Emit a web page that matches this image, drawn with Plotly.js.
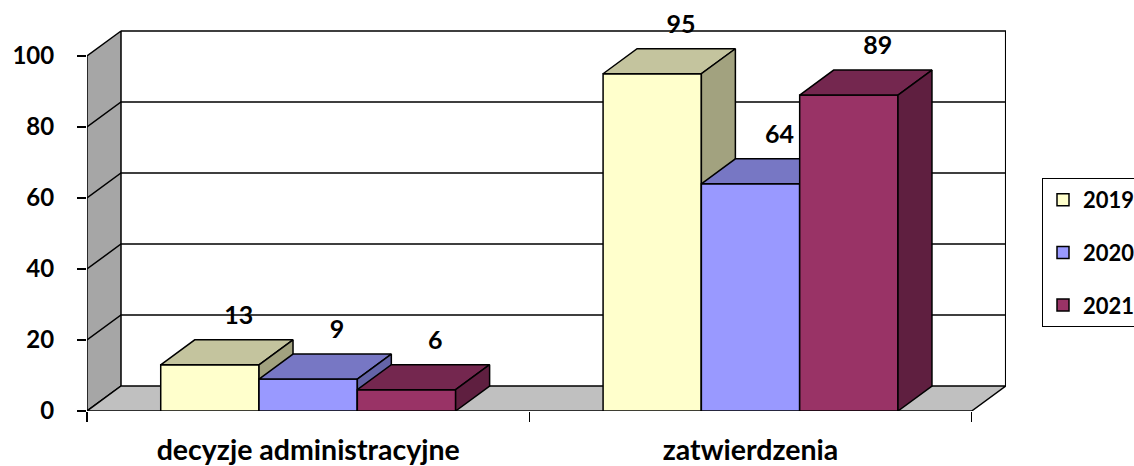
<!DOCTYPE html>
<html><head><meta charset="utf-8">
<script src="https://cdn.plot.ly/plotly-3.0.1.min.js"></script>
<style>html,body{margin:0;padding:0;background:#fff;}#chart{width:1134px;height:466px;}</style>
</head><body><div id="chart"></div>
<script>
// ---- data ----
const categories = ['decyzje administracyjne', 'zatwierdzenia'];
const seriesNames = ['2019', '2020', '2021'];
const values2019 = [13, 95];
const values2020 = [9, 64];
const values2021 = [6, 89];
const yTickValues = [0, 20, 40, 60, 80, 100];

// ---- styling / geometry ----
const seriesValues = [values2019, values2020, values2021];
const frontColors = ['#FFFFCC', '#9999FF', '#993366'];
const topColors = ['#C4C49E', '#7777C4', '#74274F'];
const sideColors = ['#A2A27F', '#6464A8', '#5F1F40'];
const FONT = 'Lato, "Open Sans", sans-serif';

const PX_PER_X = 442.35;          // pixels per category unit
const PX_PER_Y = 3.55;            // pixels per value unit
const DX = 34 / PX_PER_X;         // depth offset in x units
const DY = 25 / PX_PER_Y;         // depth offset in y units
const GROUP = 2 / 3;
const BW = GROUP / seriesNames.length;
const XMIN = -0.5, XMAX = categories.length - 0.5;
const YMAX = yTickValues[yTickValues.length - 1];
const xIdx = categories.map((c, i) => i);

const traces = [];
const LINE = {color: '#000', width: 1.5};

// left wall
traces.push({type: 'scatter', mode: 'lines', fill: 'toself', fillcolor: '#A6A6A6', line: LINE,
  x: [XMIN, XMIN, XMIN + DX, XMIN + DX, XMIN], y: [0, YMAX, YMAX + DY, DY, 0],
  showlegend: false, hoverinfo: 'skip', zorder: -5});
// back wall border (top and right)
traces.push({type: 'scatter', mode: 'lines', line: LINE,
  x: [XMIN + DX, XMAX + DX, XMAX + DX], y: [YMAX + DY, YMAX + DY, DY],
  showlegend: false, hoverinfo: 'skip', zorder: -5});
// gridlines
const gx = [], gy = [];
yTickValues.filter(v => v > 0 && v < YMAX).forEach(v => {
  gx.push(XMIN, XMIN + DX, XMAX + DX, null);
  gy.push(v, v + DY, v + DY, null);
});
traces.push({type: 'scatter', mode: 'lines', line: LINE, x: gx, y: gy,
  showlegend: false, hoverinfo: 'skip', zorder: -5});
// floor
traces.push({type: 'scatter', mode: 'lines', fill: 'toself', fillcolor: '#C0C0C0', line: LINE,
  x: [XMIN, XMAX, XMAX + DX, XMIN + DX, XMIN], y: [0, 0, DY, DY, 0],
  showlegend: false, hoverinfo: 'skip', zorder: -5});

// bars
seriesValues.forEach((vals, s) => {
  const off = -GROUP / 2 + s * BW;
  traces.push({type: 'bar', name: seriesNames[s], x: xIdx, y: vals,
    width: BW, offset: off,
    marker: {color: frontColors[s], line: LINE},
    legendgroup: 'g' + s, hoverinfo: 'skip', zorder: 2 * s + 1});
  const tx = [], ty = [], sx = [], sy = [];
  vals.forEach((v, i) => {
    const xl = xIdx[i] + off, xr = xl + BW;
    tx.push(xl, xr, xr + DX, xl + DX, xl, null);
    ty.push(v, v, v + DY, v + DY, v, null);
    sx.push(xr, xr, xr + DX, xr + DX, xr, null);
    sy.push(0, v, v + DY, DY, 0, null);
  });
  traces.push({type: 'scatter', mode: 'lines', fill: 'toself', fillcolor: topColors[s], line: LINE,
    x: tx, y: ty, showlegend: false, hoverinfo: 'skip', zorder: 2 * s + 2});
  traces.push({type: 'scatter', mode: 'lines', fill: 'toself', fillcolor: sideColors[s], line: LINE,
    x: sx, y: sy, showlegend: false, hoverinfo: 'skip', zorder: 2 * s + 2});
});

// data labels
const lx = [], ly = [], lt = [];
seriesValues.forEach((vals, s) => {
  const off = -GROUP / 2 + s * BW;
  vals.forEach((v, i) => {
    lx.push(xIdx[i] + off + BW / 2 + DX * 0.85);
    ly.push(v + DY + 6.3);
    lt.push(String(v));
  });
});
traces.push({type: 'scatter', mode: 'text', x: lx, y: ly, text: lt, textposition: 'middle center',
  textfont: {family: FONT, size: 25, weight: 'bold', color: '#000'}, cliponaxis: false,
  showlegend: false, hoverinfo: 'skip', zorder: 20});

const plotW = 919, plotT = 10, plotB = 411, plotH = plotB - plotT;
const layout = {
  width: 1134, height: 466,
  margin: {l: 87, r: 1134 - 87 - plotW, t: plotT, b: 466 - plotB, autoexpand: false},
  paper_bgcolor: '#fff', plot_bgcolor: '#fff',
  font: {family: FONT, color: '#000'},
  barmode: 'overlay',
  showlegend: true,
  legend: {x: (1042 - 87) / plotW, xanchor: 'left', y: (plotB - 178) / plotH, yanchor: 'top',
    bordercolor: '#000', borderwidth: 1, bgcolor: '#fff',
    font: {family: FONT, size: 22, weight: 'bold', color: '#000'},
    tracegroupgap: 21, traceorder: 'grouped'},
  xaxis: {range: [XMIN, XMIN + plotW / PX_PER_X], tickmode: 'array', tickvals: xIdx, ticktext: categories,
    ticks: '', showgrid: false, zeroline: false, showline: false, fixedrange: true,
    tickfont: {family: FONT, size: 28.5, weight: 'bold', color: '#000'}, ticklabelstandoff: 19,
    minor: {tickmode: 'array', tickvals: [-0.5, 0.5, 1.5], ticks: 'outside', ticklen: 10, tickwidth: 1.5,
      tickcolor: '#000', showgrid: false}},
  yaxis: {range: [0, plotH / PX_PER_Y], tickmode: 'array', tickvals: yTickValues,
    ticks: 'outside', ticklen: 9, tickwidth: 1.5, tickcolor: '#000',
    showgrid: false, zeroline: false, showline: false, fixedrange: true,
    tickfont: {family: FONT, size: 24, weight: 'bold', color: '#000'}, ticklabelstandoff: 18}
};

Plotly.newPlot('chart', traces, layout, {displayModeBar: false, staticPlot: true});
</script>
</body></html>
